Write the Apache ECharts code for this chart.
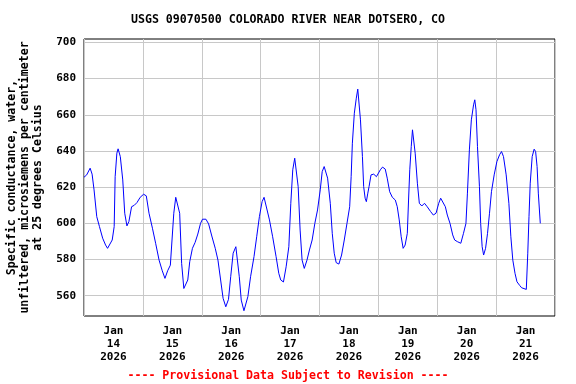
<!DOCTYPE html>
<html>
<head>
<meta charset="utf-8">
<script src="https://cdn.jsdelivr.net/npm/echarts@6/dist/echarts.min.js"></script>
<style>html,body{margin:0;padding:0;background:#fff;}#c{width:576px;height:384px;}</style>
</head>
<body>
<div id="c"></div>
<script>
// hours since 2026-01-14 00:00
var hours = [0,1.1,2.5,3.3,4.1,5.2,6.3,7.6,8.8,9.6,10.4,11.5,12.3,12.7,13.4,13.9,14.8,15.8,16.6,17.5,18.3,19.4,20.5,21.6,22.9,24.3,25.4,26.5,27.9,29.2,30.6,31.9,33.0,34.1,35.2,36.0,36.6,37.4,38.2,39.0,39.8,40.7,41.5,42.3,43.1,44.2,45.3,46.4,47.5,48.3,49.7,50.8,52.1,53.5,54.6,55.7,56.7,57.8,58.9,59.8,60.8,61.9,62.5,63.3,64.1,65.2,66.0,66.8,67.9,69.3,70.4,71.5,72.6,73.4,74.2,75.6,76.9,78.3,79.4,80.2,81.3,82.4,83.5,84.3,85.1,85.9,86.5,87.3,88.1,88.9,89.8,90.9,91.9,93.0,94.1,95.2,96.3,97.1,97.9,98.5,99.3,100.4,101.2,102.0,102.8,103.9,105.0,106.1,107.2,108.3,108.9,109.4,110.2,111.0,111.6,112.1,112.7,113.5,114.0,114.6,115.1,115.7,116.2,117.0,118.1,119.2,120.0,120.8,121.7,122.8,123.6,124.6,125.7,126.9,127.7,128.5,129.3,130.1,130.9,131.8,132.3,132.8,133.4,133.9,134.5,135.0,135.9,136.7,137.7,138.8,139.9,141.3,142.4,143.5,144.6,145.4,146.2,147.3,148.1,149.2,150.3,151.1,152.2,153.6,154.7,155.7,156.3,157.1,157.9,158.8,159.3,159.8,160.4,161.2,161.7,162.3,162.9,163.7,164.5,165.3,166.1,167.2,168.3,169.4,170.2,171.0,172.1,173.2,174.0,174.8,175.7,176.5,177.6,178.4,179.2,180.3,180.9,181.4,181.9,182.7,183.5,184.1,184.7,185.2,186.0];
var conductance = [625.5,626.8,630.5,627.2,618.5,603.7,598.2,591.8,588,586.2,587.1,590.8,598.2,625.8,638.8,641.2,636.9,624,605.6,598.6,601,609.2,610,611.5,614.4,616.1,615.2,605.6,597.3,589,579.7,573.8,569.6,573.8,576.9,577.9,605.6,614.4,614.4,605.6,577.9,564,563.5,568.7,578.8,586.2,589.5,594.1,600,602.3,602.3,599.7,593,586.2,579.7,568.7,558.6,553.9,558,570.5,583.5,587.1,586.2,570.5,557.6,551.7,552.1,559.5,570.5,581.6,592.6,603.7,612,614.4,613.9,601.9,592.6,581.6,572.4,568.7,567.6,576,587.1,611.1,629.6,636,635.1,620.3,596.3,579.7,575.1,579.7,585.3,590.8,600,607.4,618.5,628.6,631.4,631.8,625,611.1,594.5,583.5,578.3,577.5,582.5,590.8,600,609.2,625.8,644.3,660.9,669.2,674.2,673.8,657.2,636.9,620.3,613.9,612,616.7,620.3,626.8,627.2,625.8,626.8,629.6,631.1,630,625,617.5,614.4,612.9,609.2,601.9,592.6,586.2,588,594.5,612.9,629.6,642.4,651.7,651.7,638.8,622.2,611.1,609.6,611.1,609.2,606.5,604.6,605.6,611.1,613.9,613.9,609.2,604.6,600,593.6,590.8,589.9,589,594.5,600,616.7,640.6,657.2,665.5,668.3,662.8,642.4,620.3,600,587.1,582.5,586.2,594.5,605.6,617.5,626.8,634.1,637.9,639.7,636.9,626.8,611.1,592.6,579.7,572.4,567.7,565.7,564.4,563.9,563.5,583.5,603.7,622.2,636.9,641,639.7,631.4,616.7,600];
var yTicks = [560,580,600,620,640,660,680,700];
var dayLabelHours = [12,36,60,84,108,132,156,180];
var dayLabels = ['Jan\n14\n2026','Jan\n15\n2026','Jan\n16\n2026','Jan\n17\n2026','Jan\n18\n2026','Jan\n19\n2026','Jan\n20\n2026','Jan\n21\n2026'];
var titleText = 'USGS 09070500 COLORADO RIVER NEAR DOTSERO, CO';
var yName = 'Specific conductance, water,\nunfiltered, microsiemens per centimeter\nat 25 degrees Celsius';
var footer = '---- Provisional Data Subject to Revision ----';

var FONT = '"DejaVu Sans Mono", monospace';
var pts = hours.map(function(h,i){return [h, conductance[i]];});
var chart = echarts.init(document.getElementById('c'), null, {renderer:'canvas'});
chart.setOption({
  backgroundColor:'#fff',
  animation:false,
  title:[
    {text:titleText, left:'center', top:14, padding:0, textStyle:{fontFamily:FONT, fontSize:11.6, fontWeight:'bold', color:'#000'}},
    {text:footer, left:'center', top:370, padding:0, textStyle:{fontFamily:FONT, fontSize:11.6, fontWeight:'bold', color:'#ff0000'}}
  ],
  grid:{left:84, right:21, top:39, bottom:68, outerBoundsMode:'none', containLabel:false, show:true, borderColor:'#000', borderWidth:1, backgroundColor:'transparent'},
  xAxis:{
    type:'value', min:0, max:192, interval:24,
    axisLine:{show:false}, axisTick:{show:false},
    splitLine:{show:true, lineStyle:{color:'#c8c8c8', width:1}},
    axisLabel:{
      customValues:dayLabelHours,
      formatter:function(v){var i=dayLabelHours.indexOf(v);return i>=0?dayLabels[i]:'';},
      fontFamily:FONT, fontSize:11, fontWeight:'bold', color:'#000', lineHeight:13, margin:9
    }
  },
  yAxis:{
    type:'value', min:548.8, max:701.9,
    name:yName, nameLocation:'middle', nameRotate:90, nameGap:40,
    nameTextStyle:{fontFamily:FONT, fontSize:11.6, fontWeight:'bold', color:'#000', lineHeight:13},
    axisLine:{show:false},
    axisTick:{show:false, customValues:yTicks},
    splitLine:{show:true, lineStyle:{color:'#c8c8c8', width:1}},
    axisLabel:{customValues:yTicks, fontFamily:FONT, fontSize:11, fontWeight:'bold', color:'#000', margin:8}
  },
  series:[{
    type:'line', data:pts, symbol:'none', smooth:false,
    lineStyle:{color:'#0000ff', width:1}
  }]
});
</script>
</body>
</html>
